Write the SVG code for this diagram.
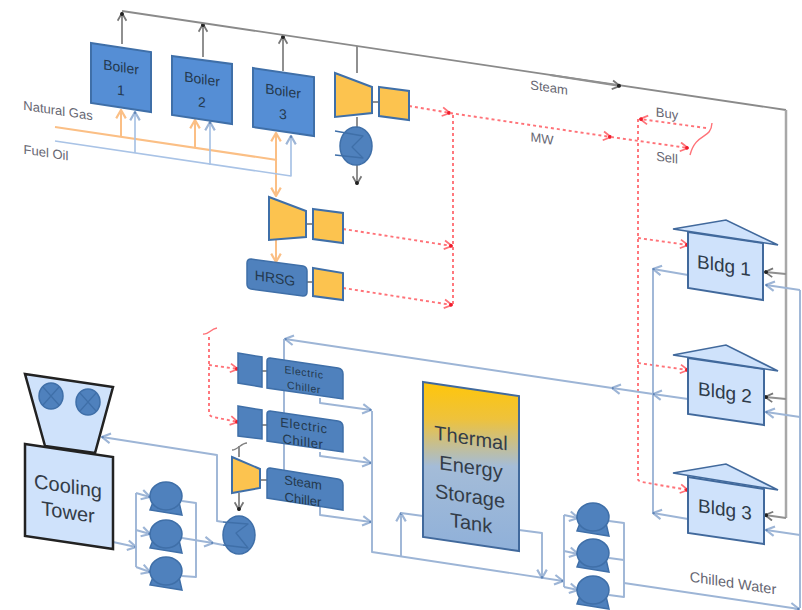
<svg xmlns="http://www.w3.org/2000/svg" width="802" height="610" viewBox="0 0 802 610">
<style>
text{font-family:"Liberation Sans",Arial,sans-serif;text-anchor:middle;fill:#24394e}
.lab{fill:#666672;font-size:13px}
.b{font-size:14px}
.big{font-size:20px;fill:#333c48}
.bl{font-size:19px;fill:#2e3b4a}
.sm{font-size:10.5px;letter-spacing:.6px}
.ch{font-size:13px}
.blue{fill:#558ed5;stroke:#3f6fa8;stroke-width:2}
.bluet{fill:#4f81bd;stroke:#3f6fa8;stroke-width:1.5}
.gold{fill:#fcc34f;stroke:#3f6fa8;stroke-width:2}
.pale{fill:#cfe2fb;stroke:#41699c;stroke-width:2}
.tower{fill:#cfe2fb;stroke:#222;stroke-width:2.5}
.ln{fill:none;stroke-linejoin:round}
.gy{stroke:#909090;stroke-width:2}
.gyw{stroke:#a8a8a8;stroke-width:2.5}
.or{stroke:#fbbf85;stroke-width:2}
.lb{stroke:#a9c3e6;stroke-width:1.7}
.wb{stroke:#9db5d6;stroke-width:1.9}
.rd{stroke:#ff7278;stroke-width:1.9;stroke-dasharray:3 3}
.sq{stroke:#ff7278;stroke-width:1.4}
</style>
<defs>
<marker id="aG" viewBox="0 0 10 10" refX="9" refY="5" markerWidth="11" markerHeight="11" markerUnits="userSpaceOnUse" orient="auto"><path d="M2,1 L9,5 L2,9" fill="none" stroke="#777" stroke-width="1.6"/><circle cx="8" cy="5" r="1.8" fill="#222"/></marker>
<marker id="aO" viewBox="0 0 10 10" refX="9" refY="5" markerWidth="12" markerHeight="12" markerUnits="userSpaceOnUse" orient="auto"><path d="M2,1 L9,5 L2,9" fill="none" stroke="#fbbf85" stroke-width="1.8"/></marker>
<marker id="aB" viewBox="0 0 10 10" refX="9" refY="5" markerWidth="12" markerHeight="12" markerUnits="userSpaceOnUse" orient="auto"><path d="M2,1 L9,5 L2,9" fill="none" stroke="#9db5d6" stroke-width="1.8"/><circle cx="8.4" cy="5" r="1" fill="#5f85b8"/></marker>
<marker id="aR" viewBox="0 0 10 10" refX="9" refY="5" markerWidth="11" markerHeight="11" markerUnits="userSpaceOnUse" orient="auto"><path d="M2,1 L9,5 L2,9" fill="none" stroke="#ff7278" stroke-width="1.6"/><circle cx="8" cy="5" r="1.7" fill="#f01c2c"/></marker>
<linearGradient id="tank" x1="0" y1="0" x2="0" y2="1"><stop offset="0" stop-color="#ffc60a"/><stop offset=".22" stop-color="#eec23c"/><stop offset=".5" stop-color="#a4bcd8"/><stop offset="1" stop-color="#8fb0d9"/></linearGradient>
</defs>

<g id="connectors">
<g class="ln gy">
<path d="M122,44V13" marker-end="url(#aG)"/>
<path d="M203,57V24" marker-end="url(#aG)"/>
<path d="M283,71V36" marker-end="url(#aG)"/>
<path d="M357,46V73"/>
<path d="M357,117V128"/>
<path d="M357,165V184" marker-end="url(#aG)"/>
<path d="M372,102H379"/>
<path d="M306,224H313"/>
<path d="M307,282H313"/>
<path d="M262,371H267"/>
<path d="M262,425H267"/>
<path d="M260,480H267"/>
<path d="M239,493V510" marker-end="url(#aG)"/>
<path d="M239,457V446"/>
</g>
<path class="ln" d="M232,450C238,450 241,443 247,443" stroke="#808080" stroke-width="1.3"/>
<path class="ln" d="M122,11L786,110" stroke="#8a8a8a" stroke-width="1.8"/>
<path class="ln gyw" d="M786,110V518"/>
<path class="ln gy" d="M550,75L620,86" marker-end="url(#aG)"/>
<path class="ln gy" d="M786,274L765,272" marker-end="url(#aG)"/>
<path class="ln gy" d="M786,399L765,397" marker-end="url(#aG)"/>
<path class="ln gy" d="M786,518L765,515" marker-end="url(#aG)"/>

<g class="ln or">
<path d="M55,127L277,160"/>
<path d="M121,137V110" marker-end="url(#aO)"/>
<path d="M195,148V120" marker-end="url(#aO)"/>
<path d="M276,160V133" marker-end="url(#aO)"/>
<path d="M276,160V196" marker-end="url(#aO)"/>
<path d="M276,240V262" marker-end="url(#aO)"/>
</g>
<g class="ln lb">
<path d="M55,141L291,176V136" marker-end="url(#aB)"/>
<path d="M135,153V112" marker-end="url(#aB)"/>
<path d="M210,165V122" marker-end="url(#aB)"/>
</g>

<g class="ln rd">
<path d="M409,106L450,113" marker-end="url(#aR)"/>
<path d="M450,113L611,137" marker-end="url(#aR)"/>
<path d="M611,137L688,148" marker-end="url(#aR)"/>
<path d="M453,115V305"/>
<path d="M343,229L452,246" marker-end="url(#aR)"/>
<path d="M343,288L452,305" marker-end="url(#aR)"/>
<path d="M706,128L640,119" marker-end="url(#aR)"/>
<path d="M638,119V479Q638,481 642,482L688,490" marker-end="url(#aR)"/>
<path d="M638,238L688,245" marker-end="url(#aR)"/>
<path d="M638,363L688,370" marker-end="url(#aR)"/>
<path d="M209,337V412Q209,416 213,417L238,422" marker-end="url(#aR)"/>
<path d="M209,365L238,369" marker-end="url(#aR)"/>
</g>
<path class="ln sq" d="M712,123C711,140 696,132 690,155"/>
<path class="ln sq" d="M203,334C209,335 210,329 217,328"/>

<g class="ln wb">
<path d="M653,513V269"/>
<path d="M688,275L653,269" marker-end="url(#aB)"/>
<path d="M688,519L653,513" marker-end="url(#aB)"/>
<path d="M688,399L653,394" marker-end="url(#aB)"/>
<path d="M653,394L612,388" marker-end="url(#aB)"/>
<path d="M612,388L285,339" marker-end="url(#aB)"/>
<path d="M284,339V470"/>
<path d="M624,583L799,609" marker-end="url(#aB)"/>
<path d="M800,608V290"/>
<path d="M800,290L766,285" marker-end="url(#aB)"/>
<path d="M800,417L766,412" marker-end="url(#aB)"/>
<path d="M800,535L766,530" marker-end="url(#aB)"/>
<path d="M320,398V403L371,410" marker-end="url(#aB)"/>
<path d="M320,452V456L371,463" marker-end="url(#aB)"/>
<path d="M320,507V515L371,522" marker-end="url(#aB)"/>
<path d="M372,411V552L563,581" marker-end="url(#aB)"/>
<path d="M401,556V513" marker-end="url(#aB)"/>
<path d="M401,513L423,516"/>
<path d="M519,530L542,533V578" marker-end="url(#aB)"/>
<path d="M564,515V587"/>
<path d="M564,515L578,518" marker-end="url(#aB)"/>
<path d="M564,551L578,554" marker-end="url(#aB)"/>
<path d="M564,587L578,590" marker-end="url(#aB)"/>
<path d="M609,521L624,523V597L609,595"/>
<path d="M609,558L624,560"/>
<path d="M113,542L136,547" marker-end="url(#aB)"/>
<path d="M136,493V567"/>
<path d="M136,493L150,497" marker-end="url(#aB)"/>
<path d="M136,530L150,534" marker-end="url(#aB)"/>
<path d="M136,567L150,572" marker-end="url(#aB)"/>
<path d="M182,501L196,503V577L182,576"/>
<path d="M182,538L213,543" marker-end="url(#aB)"/>
<path d="M213,543L223,545"/>
<path d="M223,522L217,521V455L102,437" marker-end="url(#aB)"/>
</g>
</g>

<g id="boiler1"><polygon class="blue" points="91,43 151,52 151,112 91,103"/><text class="b" transform="translate(121,72) skewY(8.5)">Boiler</text><text class="b" transform="translate(121,95) skewY(8.5)">1</text></g>
<g id="boiler2"><polygon class="blue" points="172,56 232,64 232,124 172,115"/><text class="b" transform="translate(202,84) skewY(8.5)">Boiler</text><text class="b" transform="translate(202,107) skewY(8.5)">2</text></g>
<g id="boiler3"><polygon class="blue" points="253,68 314,77 314,136 253,127"/><text class="b" transform="translate(283,96) skewY(8.5)">Boiler</text><text class="b" transform="translate(283,119) skewY(8.5)">3</text></g>

<g id="turbine1"><polygon class="gold" points="335,73 372,87 372,113 335,117"/></g>
<g id="generator1"><polygon class="gold" points="379,87 409,91 409,120 379,116"/></g>
<g id="condenser1"><ellipse class="bluet" cx="356" cy="146" rx="16" ry="19"/><path class="ln" d="M335,131L363,136L352,147L363,158L335,155" stroke="#3f6fa8" stroke-width="1.3"/></g>
<g id="turbine2"><polygon class="gold" points="269,197 306,211 306,237 269,240"/></g>
<g id="generator2"><polygon class="gold" points="313,209 343,213 343,243 313,239"/></g>
<g id="hrsg"><path class="bluet" d="M251,259L303,266Q307,267 307,271V292Q307,296 303,296L251,289Q247,288 247,284V263Q247,259 251,259Z"/><text font-size="14" transform="translate(275,283) skewY(8.5)">HRSG</text></g>
<g id="generator3"><polygon class="gold" points="313,268 343,273 343,300 313,296"/></g>

<g id="bldg1"><polygon class="pale" points="688,232 763,243 763,300 688,288"/><polygon fill="#cfe2fb" stroke="#41699c" stroke-width="1.6" points="673,229 726,220 778,245"/><text class="bl" transform="translate(724,272) skewY(8.5)">Bldg 1</text></g>
<g id="bldg2"><polygon class="pale" points="688,358 764,369 764,425 688,414"/><polygon fill="#cfe2fb" stroke="#41699c" stroke-width="1.6" points="673,355 726,345 778,371"/><text class="bl" transform="translate(725,399) skewY(8.5)">Bldg 2</text></g>
<g id="bldg3"><polygon class="pale" points="688,477 764,489 764,544 688,533"/><polygon fill="#cfe2fb" stroke="#41699c" stroke-width="1.6" points="673,473 726,464 778,490"/><text class="bl" transform="translate(725,516) skewY(8.5)">Bldg 3</text></g>

<g id="cooling-tower">
<polygon class="tower" points="25,374 113,387 95,453 45,446"/>
<polygon class="tower" points="25,444 113,457 113,549 25,536"/>
<ellipse class="bluet" cx="51" cy="396" rx="12" ry="13"/><path d="M43,387L59,405M59,387L43,405" stroke="#3f6fa8" stroke-width="1.2"/>
<ellipse class="bluet" cx="88" cy="402" rx="12" ry="13"/><path d="M80,393L96,411M96,393L80,411" stroke="#3f6fa8" stroke-width="1.2"/>
<text class="big" transform="translate(68,493) skewY(8.5)">Cooling</text>
<text class="big" transform="translate(68,519) skewY(8.5)">Tower</text>
</g>

<g id="pump1"><path class="bluet" d="M153,502L150,510L182,515L179,502Z"/><ellipse class="bluet" cx="166" cy="496" rx="16" ry="14"/></g>
<g id="pump2"><path class="bluet" d="M153,540L150,548L182,553L179,540Z"/><ellipse class="bluet" cx="166" cy="534" rx="16" ry="14"/></g>
<g id="pump3"><path class="bluet" d="M153,577L150,585L182,590L179,577Z"/><ellipse class="bluet" cx="166" cy="571" rx="16" ry="14"/></g>

<g id="condenser2"><ellipse class="bluet" cx="239" cy="535" rx="16" ry="19"/><path class="ln" d="M223,522L248,524L236,533L248,548L223,545" stroke="#3f6fa8" stroke-width="1.3"/></g>

<g id="motor1"><polygon class="bluet" points="238,353 262,357 262,387 238,383"/></g>
<g id="motor2"><polygon class="bluet" points="238,406 262,410 262,439 238,436"/></g>
<g id="turbine3"><polygon class="gold" points="232,457 260,469 260,488 232,493"/></g>

<g id="chiller1"><path class="bluet" d="M270,358L338,368Q343,369 343,374V399L267,388V361Q267,358 270,358Z"/><text class="sm" transform="translate(304,376) skewY(8.5)">Electric</text><text class="sm" transform="translate(304,391) skewY(8.5)">Chiller</text></g>
<g id="chiller2"><path class="bluet" d="M270,411L338,421Q343,422 343,427V452L267,441V414Q267,411 270,411Z"/><text class="ch" transform="translate(304,430) skewY(8.5)" letter-spacing=".6">Electric</text><text class="ch" transform="translate(303,446) skewY(8.5)" letter-spacing=".6">Chiller</text></g>
<g id="chiller3"><path class="bluet" d="M270,468L338,479Q343,480 343,485V510L267,498V471Q267,468 270,468Z"/><text class="ch" transform="translate(303,487) skewY(8.5)">Steam</text><text class="ch" transform="translate(303,504) skewY(8.5)">Chiller</text></g>

<g id="storage-tank"><polygon fill="url(#tank)" stroke="#41699c" stroke-width="2" points="423,382 519,396 519,551 423,537"/>
<text class="big" transform="translate(471,445) skewY(8.5)">Thermal</text>
<text class="big" transform="translate(471,474) skewY(8.5)">Energy</text>
<text class="big" transform="translate(470,503) skewY(8.5)">Storage</text>
<text class="big" transform="translate(471,530) skewY(8.5)">Tank</text></g>

<g id="pump4"><path class="bluet" d="M580,523L577,531L609,536L606,523Z"/><ellipse class="bluet" cx="593" cy="517" rx="16" ry="14"/></g>
<g id="pump5"><path class="bluet" d="M580,559L577,567L609,572L606,559Z"/><ellipse class="bluet" cx="593" cy="553" rx="16" ry="14"/></g>
<g id="pump6"><path class="bluet" d="M580,596L577,604L609,609L606,596Z"/><ellipse class="bluet" cx="593" cy="590" rx="16" ry="14"/></g>

<g id="labels">
<text class="lab" transform="translate(58,115) skewY(8.5)">Natural Gas</text>
<text class="lab" transform="translate(46,157) skewY(8.5)">Fuel Oil</text>
<text class="lab" transform="translate(549,92) skewY(8.5)">Steam</text>
<text class="lab" transform="translate(542,143) skewY(8.5)">MW</text>
<text class="lab" transform="translate(667,118) skewY(8.5)">Buy</text>
<text class="lab" transform="translate(667,162) skewY(8.5)">Sell</text>
<text class="lab" style="font-size:14.5px" transform="translate(733,588) skewY(8.5)">Chilled Water</text>
</g>
</svg>
